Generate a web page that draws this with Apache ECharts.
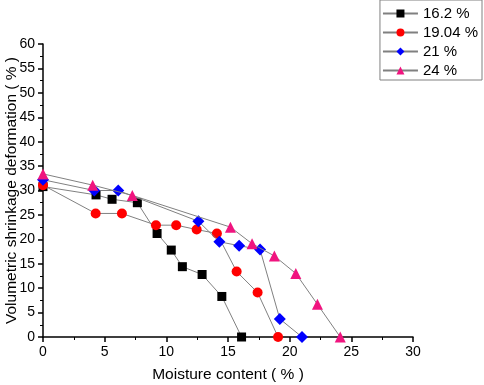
<!DOCTYPE html>
<html>
<head>
<meta charset="utf-8">
<script src="https://cdn.jsdelivr.net/npm/echarts@6/dist/echarts.min.js"></script>
<style>
  html, body { margin: 0; padding: 0; background: #fff; }
  #chart { width: 484px; height: 385px; }
</style>
</head>
<body>
<div id="chart"></div>
<script>
// Series names (initial moisture content)
const seriesNames = ['16.2 %', '19.04 %', '21 %', '24 %'];

// Moisture content (x) and volumetric shrinkage (y) per series
const x162 = [0, 4.3, 5.6, 7.65, 9.25, 10.4, 11.3, 12.9, 14.5, 16.1];
const y162 = [30.8, 29.1, 28.2, 27.5, 21.2, 17.8, 14.4, 12.8, 8.3, 0];

const x1904 = [0, 4.27, 6.4, 9.16, 10.8, 12.46, 14.1, 15.7, 17.4, 19.06];
const y1904 = [31.1, 25.3, 25.3, 22.9, 22.9, 22.0, 21.2, 13.4, 9.1, 0];

const x21 = [0, 4.16, 6.1, 12.6, 14.3, 15.9, 17.6, 19.2, 21.0];
const y21 = [32.2, 30.0, 30.0, 23.7, 19.5, 18.7, 17.9, 3.7, 0];

const x24 = [0, 4.03, 7.24, 15.2, 16.95, 18.76, 20.5, 22.25, 24.1];
const y24 = [33.4, 31.1, 29.0, 22.5, 19.1, 16.6, 13.0, 6.7, 0];

const xValues = [x162, x1904, x21, x24];
const yValues = [y162, y1904, y21, y24];

const markerColors = ['#000000', '#ff0000', '#0000ff', '#f0147f'];
const markerSymbols = ['rect', 'circle', 'diamond', 'triangle'];
const markerSizes = [9, 10, 12, 11];

const fontFamily = '"Liberation Sans", Arial, sans-serif';

const chart = echarts.init(document.getElementById('chart'));

const series = seriesNames.map((name, i) => ({
  name: name,
  type: 'line',
  data: xValues[i].map((x, j) => [x, yValues[i][j]]),
  symbol: markerSymbols[i],
  symbolSize: markerSizes[i],
  itemStyle: { color: markerColors[i] },
  lineStyle: { color: '#808080', width: 1 },
  emphasis: { disabled: true },
  z: 2 + i
}));

const axisCommon = {
  axisLine: { show: true, lineStyle: { color: '#000', width: 1.5 } },
  axisTick: { show: true, inside: false, length: 5, lineStyle: { color: '#000', width: 1.5 } },
  minorTick: { show: true, splitNumber: 2, length: 3, lineStyle: { color: '#000', width: 1 } },
  axisLabel: { color: '#000', fontSize: 14, fontFamily: fontFamily, margin: 8 },
  splitLine: { show: false },
  nameMoveOverlap: false,
  nameTextStyle: { color: '#000', fontSize: 15.5, fontFamily: fontFamily }
};

const option = {
  animation: false,
  backgroundColor: '#fff',
  grid: { left: 43, right: 71, top: 44, bottom: 48, outerBoundsMode: 'none' },
  legend: {
    orient: 'vertical',
    right: 2,
    top: 0,
    itemWidth: 35,
    itemHeight: 10,
    itemGap: 4,
    padding: [6, 4, 2, 2],
    borderColor: '#808080',
    borderWidth: 1,
    textStyle: { color: '#000', fontSize: 15, fontFamily: fontFamily },
    data: seriesNames
  },
  xAxis: Object.assign({}, axisCommon, {
    type: 'value',
    min: 0,
    max: 30,
    interval: 5,
    name: 'Moisture content ( % )',
    nameLocation: 'middle',
    nameGap: 30
  }),
  yAxis: Object.assign({}, axisCommon, {
    type: 'value',
    min: 0,
    max: 60,
    interval: 5,
    name: 'Volumetric shrinkage deformation ( % )',
    nameLocation: 'middle',
    nameGap: 23
  }),
  series: series
};

chart.setOption(option);
</script>
</body>
</html>
